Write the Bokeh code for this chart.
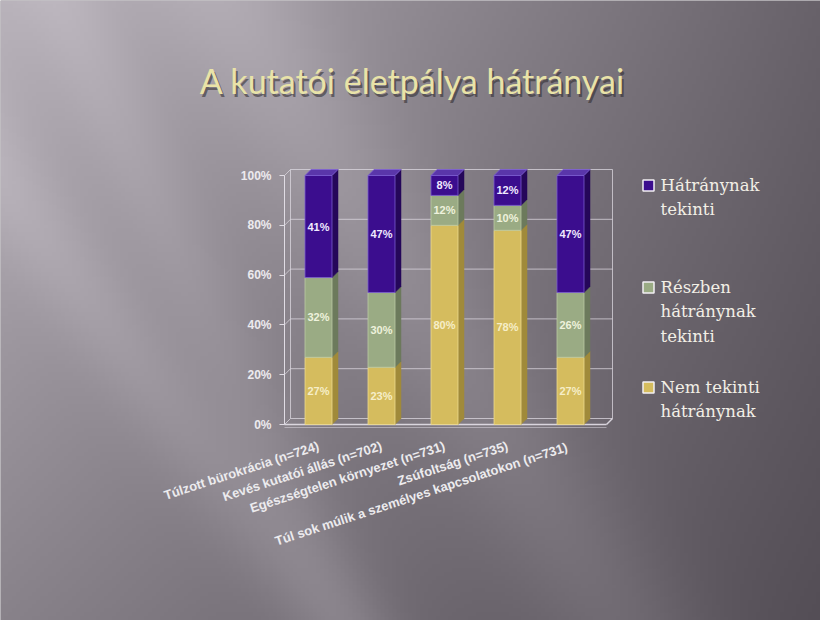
import math
import numpy as np
from bokeh.plotting import figure
from bokeh.models import Range1d, LinearAxis, FixedTicker
from bokeh.core.properties import value
from bokeh.embed import file_html
from bokeh.resources import INLINE

# ---------------- data ----------------
title_text = "A kutatói életpálya hátrányai"
categories = [
    "Túlzott bürokrácia (n=724)",
    "Kevés kutatói állás (n=702)",
    "Egészségtelen környezet (n=731)",
    "Zsúfoltság (n=735)",
    "Túl sok múlik a személyes kapcsolatokon  (n=731)",
]
nem_tekinti = [27, 23, 80, 78, 27]      # Nem tekinti hátránynak
reszben = [32, 30, 12, 10, 26]          # Részben hátránynak tekinti
hatranynak = [41, 47, 8, 12, 47]        # Hátránynak tekinti
legend_labels = ["Hátránynak\ntekinti", "Részben\nhátránynak\ntekinti", "Nem tekinti\nhátránynak"]
y_ticks = [0, 20, 40, 60, 80, 100]
y_tick_labels = ["0%", "20%", "40%", "60%", "80%", "100%"]

# ---------------- layout helpers (pixels -> data) ----------------
W, H = 820, 620
PXX = 63.0      # pixels per category
CX0 = 318.0     # pixel x of first category
PXY = 2.49      # pixels per percent
Y0PX = 424.0    # pixel y (from top) of 0 %


def fx(px):
    return (px - CX0) / PXX


def fy(py):
    return (Y0PX - py) / PXY


p = figure(width=W, height=H,
           x_range=Range1d(fx(0), fx(W)), y_range=Range1d(fy(H), fy(0)),
           output_backend="svg", toolbar_location=None,
           x_axis_type=None, y_axis_type=None, min_border=0)
p.outline_line_color = None
p.title.visible = False
p.background_fill_color = "#8a868c"
p.border_fill_color = "#8a868c"

# ---------------- background gradient ----------------
nx, ny = 205, 155
u = ((np.arange(nx) + 0.5) / nx)[None, :]
vt = 1 - ((np.arange(ny) + 0.5) / ny)[:, None]
g = 184 - 80 * u - 48 * vt + 28 * u * vt
gpx = u * W
gpy = vt * H


def band(x1, y1, x2, y2, amp, sig):
    dxl, dyl = x2 - x1, y2 - y1
    L = math.hypot(dxl, dyl)
    d = ((gpx - x1) * dyl - (gpy - y1) * dxl) / L
    return amp * np.exp(-(d / sig) ** 2)


g = g + band(230, 0, 620, 620, 16, 70) + band(0, 180, 330, 620, 14, 45) + band(60, 0, 200, 300, 10, 40)
img = np.empty((ny, nx), dtype=np.uint32)
view = img.view(dtype=np.uint8).reshape((ny, nx, 4))
view[..., 0] = np.clip(g, 0, 255).astype(np.uint8)
view[..., 1] = np.clip(g - 6, 0, 255).astype(np.uint8)
view[..., 2] = np.clip(g + 2, 0, 255).astype(np.uint8)
view[..., 3] = 255
p.image_rgba(image=[img], x=fx(0), y=fy(H), dw=fx(W) - fx(0), dh=fy(0) - fy(H))

# ---------------- 3D frame ----------------
AXIS_X = fx(284)
RIGHT_X = fx(612)
BAR_W = 27 / PXX
DX = 6 / PXX
DY = 6 / PXY
grid_col = "#dcd8e0"

p.segment(x0=[AXIS_X + DX] * len(y_ticks), y0=[t + DY for t in y_ticks],
          x1=[RIGHT_X] * len(y_ticks), y1=[t + DY for t in y_ticks],
          line_color=grid_col, line_alpha=0.75, line_width=1)
p.segment(x0=[AXIS_X] * len(y_ticks), y0=y_ticks,
          x1=[AXIS_X + DX] * len(y_ticks), y1=[t + DY for t in y_ticks],
          line_color=grid_col, line_alpha=0.75, line_width=1)
p.segment(x0=[AXIS_X + DX, RIGHT_X], y0=[DY, DY], x1=[AXIS_X + DX, RIGHT_X], y1=[100 + DY, 100 + DY],
          line_color=grid_col, line_alpha=0.75, line_width=1)
# floor
p.segment(x0=[AXIS_X, RIGHT_X - DX], y0=[0, 0], x1=[RIGHT_X - DX, RIGHT_X], y1=[0, DY],
          line_color="#e4e0e8", line_alpha=0.9, line_width=1.5)
p.segment(x0=[AXIS_X], y0=[-1.2], x1=[RIGHT_X - DX], y1=[-1.2],
          line_color="#e4e0e8", line_alpha=0.5, line_width=1)

# ---------------- bars ----------------
xs = np.arange(len(categories), dtype=float)
series = [nem_tekinti, reszben, hatranynak]
styles = [
    # front, side, top, edge, label colour
    ("#d5bc5e", "#a08a3a", "#e6d27e", "#ecd98e", "#f6eec8"),
    ("#9aab84", "#6c7a5c", "#b4c29c", "#bccaa4", "#eef2dc"),
    ("#3b0d8e", "#25075a", "#5a36aa", "#7a5cd0", "#f0eaff"),
]
bottoms = np.zeros(len(categories))
for k, (vals, (front, side, topc, edge, lblc)) in enumerate(zip(series, styles)):
    vals = np.array(vals, dtype=float)
    tops = bottoms + vals
    # side faces
    sx, sy = [], []
    for x, b, t in zip(xs, bottoms, tops):
        r = x + BAR_W / 2
        sx.append([r, r + DX, r + DX, r])
        sy.append([b, b + DY, t + DY, t])
    p.patches(xs=sx, ys=sy, fill_color=side, line_color=side, line_width=0.5)
    # front faces
    p.quad(left=xs - BAR_W / 2, right=xs + BAR_W / 2, bottom=bottoms, top=tops,
           fill_color=front, line_color=edge, line_width=1, line_alpha=0.8)
    if k == len(series) - 1:
        tx, ty = [], []
        for x, t in zip(xs, tops):
            l, r = x - BAR_W / 2, x + BAR_W / 2
            tx.append([l, l + DX, r + DX, r])
            ty.append([t, t + DY, t + DY, t])
        p.patches(xs=tx, ys=ty, fill_color=topc, line_color=edge, line_width=0.8)
    p.text(x=xs, y=(bottoms + tops) / 2, text=[f"{int(v)}%" for v in vals],
           text_align="center", text_baseline="middle", text_color=lblc,
           text_font=value("Liberation Sans"), text_font_style="bold", text_font_size="11px")
    bottoms = tops

# ---------------- axes ----------------
yaxis = LinearAxis(fixed_location=AXIS_X, ticker=FixedTicker(ticks=y_ticks),
                   major_label_overrides={t: l for t, l in zip(y_ticks, y_tick_labels)})
yaxis.bounds = (0, 100)
yaxis.axis_line_color = "#e0dce4"
yaxis.major_tick_line_color = "#e0dce4"
yaxis.major_tick_out = 5
yaxis.major_tick_in = 0
yaxis.minor_tick_line_color = None
yaxis.major_label_standoff = 8
yaxis.major_label_text_color = "#eceaee"
yaxis.major_label_text_font = "Liberation Sans"
yaxis.major_label_text_font_style = "bold"
yaxis.major_label_text_font_size = "12px"
p.add_layout(yaxis, "left")

xaxis = LinearAxis(fixed_location=0, ticker=FixedTicker(ticks=list(range(len(categories)))),
                   major_label_overrides={i: c for i, c in enumerate(categories)},
                   major_label_orientation=math.radians(18))
xaxis.axis_line_color = None
xaxis.major_tick_line_color = None
xaxis.minor_tick_line_color = None
xaxis.major_tick_out = 0
xaxis.major_tick_in = 0
xaxis.major_label_standoff = 21
xaxis.major_label_text_color = "#ecebee"
xaxis.major_label_text_font = "Liberation Sans"
xaxis.major_label_text_font_style = "bold"
xaxis.major_label_text_font_size = "13px"
p.add_layout(xaxis, "below")

# ---------------- title ----------------
p.text(x=[fx(412)], y=[fy(80)], text=[title_text], text_align="center", text_baseline="middle",
       text_color="#2a2629", text_alpha=0.55, x_offset=2, y_offset=3,
       text_font=value("Lato"), text_font_size="34px")
p.text(x=[fx(412)], y=[fy(80)], text=[title_text], text_align="center", text_baseline="middle",
       text_color="#e9e3a8", text_font=value("Lato"), text_font_size="34px")

# ---------------- legend ----------------
leg_colors = [styles[2][0], styles[1][0], styles[0][0]]
leg_first_line = [185, 287, 387]
p.scatter(x=[fx(648)] * 3, y=[fy(v) for v in leg_first_line], marker="square", size=11,
          fill_color=leg_colors, line_color="#f2f0f4", line_width=1.5)
p.text(x=[fx(660)] * 3, y=[fy(v - 10) for v in leg_first_line], text=legend_labels,
       text_align="left", text_baseline="top", text_color="#f2efe6", text_line_height=1.3,
       text_font=value("DejaVu Serif"), text_font_size="16.5px")

open("out.html", "w", encoding="utf-8").write(file_html(p, INLINE))
